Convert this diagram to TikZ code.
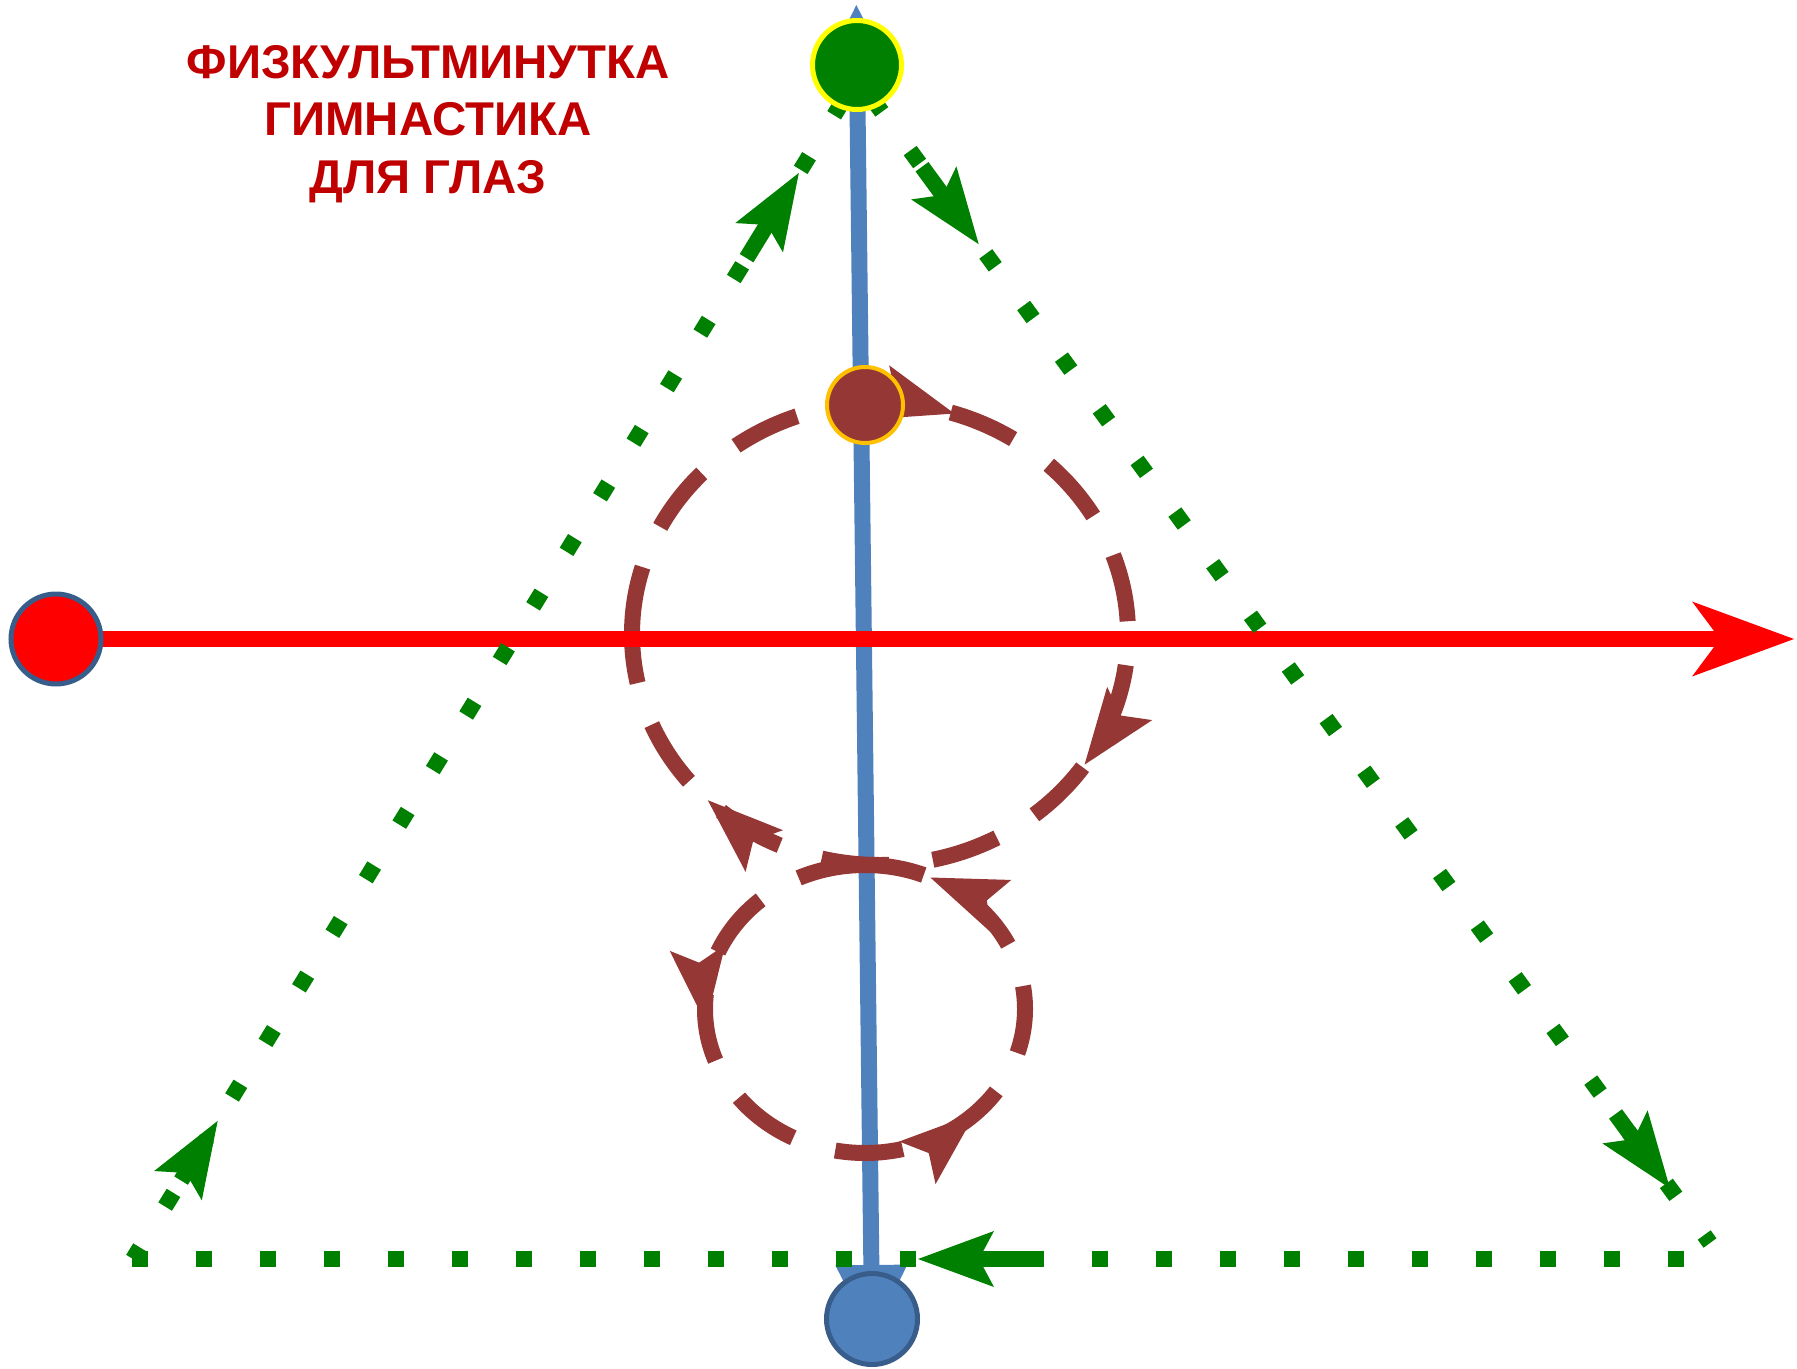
\documentclass[tikz,border=0pt]{standalone}
\usepackage{fontspec}
\setmainfont{Liberation Sans}
\usetikzlibrary{arrows.meta,calc,backgrounds,decorations.markings}
\definecolor{eyegreen}{HTML}{008000}
\definecolor{eyeyellow}{HTML}{FFFF00}
\definecolor{eyered}{HTML}{FF0000}
\definecolor{eyeblue}{HTML}{4F81BD}
\definecolor{eyenavy}{HTML}{385D8A}
\definecolor{eyebrown}{HTML}{953735}
\definecolor{eyeorange}{HTML}{FFC000}
\definecolor{titlered}{HTML}{C00000}
\tikzset{
  eyedot/.style={circle, inner sep=0pt, outer sep=0pt, line width=2.5pt, minimum size=#1},
  redaxis/.style={eyered, line width=8pt, -{Stealth[length=51pt, width=37.5pt, inset=14pt, line width=0pt]}},
  blueaxis/.style={eyeblue, line width=8pt, {Triangle[length=36pt, width=36pt, line width=0pt]}-{Triangle[length=36pt, width=36pt, line width=0pt]}},
  greendots/.style={eyegreen, line width=8pt, dash pattern=on 8pt off 24pt},
  brownring/.style={eyebrown, line width=8pt, dash pattern=on 34pt off 22pt},
  arrowat/.style args={#1/#2}{postaction={decorate, decoration={markings,
    mark=at position #1 with {\draw[solid, -{Stealth[length=38pt, width=28pt, inset=7.5pt, line width=0pt]}] (-#2,0pt) -- (0pt,0pt);}}}},
  titletext/.style={text=titlered, font=\bfseries\fontsize{23.7pt}{28.75pt}\selectfont, align=center}
}
\begin{document}
\begin{tikzpicture}[x=0.5pt, y=-0.5pt]
  \useasboundingbox (0,0) rectangle (1797,1369);
  % title
  \node[titletext] (title) at (428,124) {ФИЗКУЛЬТМИНУТКА\\ГИМНАСТИКА\\ДЛЯ ГЛАЗ};
  % the four dots
  \node[eyedot=44.5pt, fill=eyegreen, draw=eyeyellow] (topdot) at (857,65) {};
  \node[eyedot=45pt, fill=eyered, draw=eyenavy] (leftdot) at (56,639) {};
  \node[eyedot=38pt, fill=eyebrown, draw=eyeorange, line width=2pt] (middot) at (865,405) {};
  \node[eyedot=45.5pt, fill=eyeblue, draw=eyenavy] (botdot) at (872,1319) {};
  \coordinate (righttip) at (1794,639);
  \coordinate (apex) at (857,78);
  \coordinate (lcorner) at (133,1259);
  \coordinate (rcorner) at (1710,1243);
  \coordinate (bstart) at (1684,1259);
  \coordinate (bend) at (132,1259);
  \coordinate (bigring) at (880,634);
  \coordinate (smallring) at (865,1009);
  \begin{scope}[on background layer]
    \draw[blueaxis, shorten <=-9pt, shorten >=-30pt] (botdot.center) -- (topdot.center);
    % clockwise big ring, anticlockwise small ring
    \draw[brownring, arrowat=0.30/20pt, arrowat=0.593/20pt, arrowat=0.875/20pt]
      (bigring) ++(-248,0) arc[start angle=180, end angle=540, x radius=248, y radius=231];
    \draw[brownring, arrowat=0.265/20pt, arrowat=0.625/20pt, arrowat=0.93/20pt]
      (smallring) ++(0,-144) arc[start angle=-90, end angle=-450, x radius=160, y radius=144];
    \draw[redaxis] (leftdot) -- (righttip);
    % triangle of dots
    \draw[greendots, dash phase=1.25pt, arrowat=81pt/35pt, arrowat=637pt/50pt] (lcorner) -- (apex);
    \draw[greendots, dash phase=19pt, arrowat=103pt/48pt, arrowat=688pt/46pt] (apex) -- (rcorner);
    \draw[greendots, arrowat=383pt/60pt] (bstart) -- (bend);
  \end{scope}
\end{tikzpicture}
\end{document}
